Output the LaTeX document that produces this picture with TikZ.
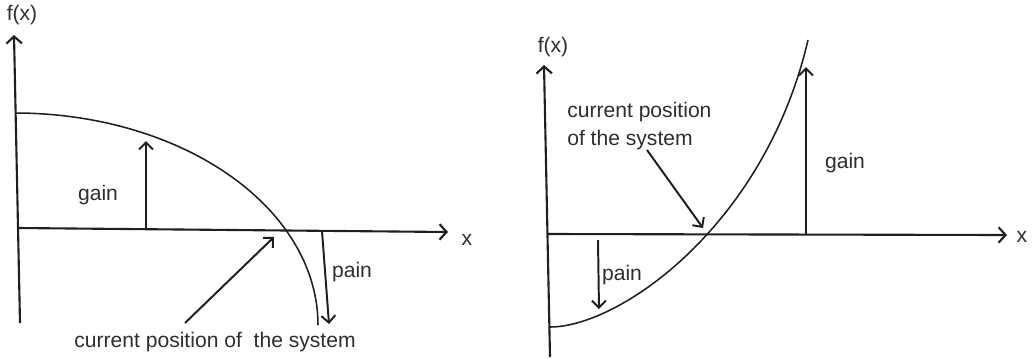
\documentclass[tikz,border=0pt]{standalone}
\usepackage{fontspec}
\setmainfont{Liberation Sans}
\usetikzlibrary{arrows.meta,positioning}
\tikzset{
  axis/.style={draw=black!88,line width=1.5pt,
    -{Straight Barb[length=5pt,width=11pt]}},
  pointer/.style={draw=black!88,line width=1.4pt,
    -{Straight Barb[length=5pt,width=10pt]}},
  curve/.style={draw=black!88,line width=1.1pt},
  lbl/.style={inner sep=0pt,text=black!82,font=\fontsize{15}{20}\selectfont}
}
\begin{document}
\begin{tikzpicture}[x=0.025cm,y=-0.025cm]
  \useasboundingbox (0,0) rectangle (1035,358);
  % left panel: falling curve
  \coordinate (l-bot) at (20,323);
  \coordinate (l-top) at (14,35);
  \coordinate (l-o) at (18,228);
  \coordinate (l-end) at (448,232);
  \draw[axis] (l-bot) -- (l-top);
  \draw[axis] (l-o) -- (l-end);
  \draw[curve] plot[domain=-90:0,samples=60,smooth] ({15+303*cos(\x)},{325+212*sin(\x)});
  \node[lbl] (lfx) at (22,15) {f(x)};
  \node[lbl] (lx) at (467,240) {x};
  \node[lbl] (lgain) at (98,195) {gain};
  \node[lbl] (lpain) at (352,272) {pain};
  \node[lbl] (lcur) at (215,342) {current position of\ \ the system};
  \coordinate (lg-foot) at (146,229);
  \coordinate (lg-head) at (146,141);
  \coordinate (lp-foot) at (322,231);
  \coordinate (lp-head) at (329,324);
  \coordinate (lc-tail) at (185,323);
  \coordinate (lc-head) at (274,237);
  \draw[pointer] (lg-foot) -- (lg-head);
  \draw[pointer] (lp-foot) -- (lp-head);
  \draw[pointer] (lc-tail) -- (lc-head);

  % right panel: rising curve
  \coordinate (r-bot) at (550,357);
  \coordinate (r-top) at (544,65);
  \coordinate (r-o) at (547,234);
  \coordinate (r-end) at (1007,235);
  \draw[axis] (r-bot) -- (r-top);
  \draw[axis] (r-o) -- (r-end);
  \draw[curve] (550,327) .. controls (620,327) and (765,225) .. (808,40);
  \node[lbl] (rfx) at (553,47) {f(x)};
  \node[lbl] (rx) at (1022,237) {x};
  \node[lbl] (rgain) at (845,163) {gain};
  \node[lbl] (rpain) at (622,275) {pain};
  \node[lbl,align=left,anchor=west] (rcur) at (567,126) {current position\\of the system};
  \coordinate (rg-foot) at (806,234);
  \coordinate (rg-head) at (806,67);
  \coordinate (rp-foot) at (598,240);
  \coordinate (rp-head) at (599,309);
  \coordinate (rc-tail) at (647,150);
  \coordinate (rc-head) at (703,228);
  \draw[pointer] (rg-foot) -- (rg-head);
  \draw[pointer] (rp-foot) -- (rp-head);
  \draw[pointer] (rc-tail) -- (rc-head);
\end{tikzpicture}
\end{document}
